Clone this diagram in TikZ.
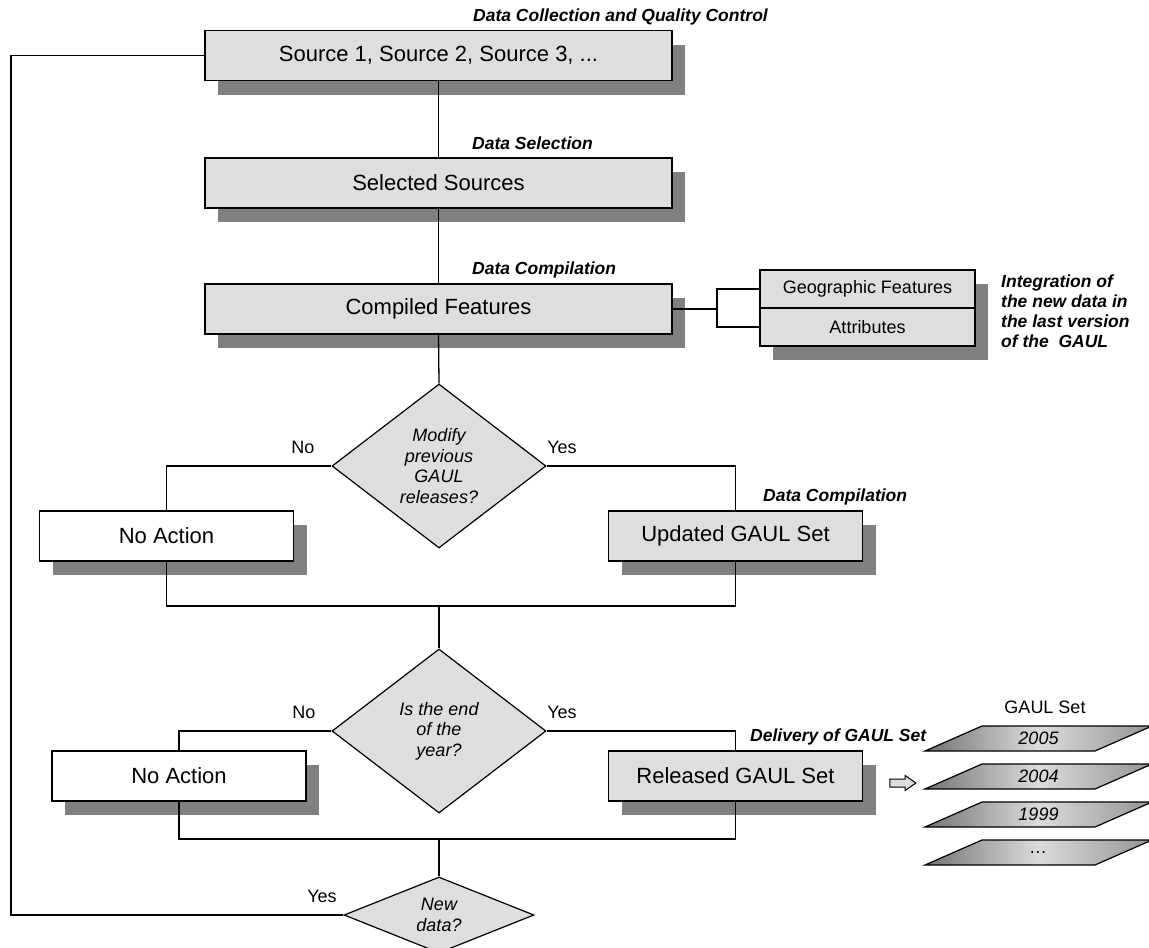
\documentclass[tikz,border=0pt]{standalone}
\usepackage{fontspec}
\setmainfont{Liberation Sans}
\usetikzlibrary{shapes.geometric,shapes.arrows,shadows}

\definecolor{boxgray}{gray}{0.87}
\definecolor{shadowgray}{gray}{0.5}
\definecolor{parleft}{gray}{0.45}
\definecolor{parmid}{gray}{0.86}
\definecolor{parright}{gray}{0.58}

\newcommand{\boxfont}{\fontsize{22}{26}\selectfont}
\newcommand{\smallfont}{\fontsize{18}{20.5}\selectfont}
\newcommand{\stepfont}{\fontsize{17.5}{20}\selectfont\bfseries\itshape}

\begin{document}
\begin{tikzpicture}[x=1pt,y=-1pt,
    procbox/.style={draw, line width=1.3pt, fill=boxgray, inner sep=0pt,
        minimum height=50pt, font=\boxfont,
        drop shadow={shadow xshift=13pt, shadow yshift=-14pt, fill=shadowgray, opacity=1}},
    widebox/.style={minimum width=467pt},
    halfbox/.style={minimum width=254pt},
    decision/.style={diamond, draw, line width=1.2pt, fill=boxgray, inner sep=0pt,
        align=center, font=\smallfont\itshape},
    steplabel/.style={anchor=west, inner sep=0pt, font=\stepfont},
    answer/.style={inner sep=0pt, font=\smallfont},
    link/.style={line width=1.3pt}]
\useasboundingbox[fill=white] (0,0) rectangle (1149,948);

% Main chain
\node[procbox, widebox] (src) at (438.5,55.5) {Source 1, Source 2, Source 3, ...};
\node[steplabel] (lblcoll) at (473,17) {Data Collection and Quality Control};
\node[procbox, widebox] (sel) at (438.5,183) {Selected Sources};
\node[steplabel] (lblsel) at (472,143) {Data Selection};
\node[procbox, widebox] (comp) at (438.5,309) {Compiled Features};
\node[steplabel] (lblcomp) at (472,270) {Data Compilation};

% Integration box
\node[procbox, minimum width=215pt, minimum height=38pt, font=\smallfont] (geo) at (867.5,289) {Geographic Features};
\node[procbox, minimum width=215pt, minimum height=38pt, font=\smallfont] (attr) at (867.5,327) {Attributes};
\node[anchor=north west, align=left, inner sep=0pt, font=\stepfont] (integ) at (1001,275)
    {Integration of\\the new data in\\the last version\\of the\ \ GAUL};
\coordinate (fork) at (717,309);

% First decision
\node[decision, minimum width=214pt, minimum height=164pt] (q1) at (439,466) {Modify\\previous\\GAUL\\releases?};
\node[answer] (no1) at (303,447) {No};
\node[answer] (yes1) at (562,447) {Yes};
\node[procbox, halfbox, fill=white] (none1) at (166.5,536) {No Action};
\node[procbox, halfbox] (upd) at (735.5,536) {Updated GAUL Set};
\node[steplabel] (lblupd) at (763,497) {Data Compilation};
\coordinate (join1) at (439,606);

% Second decision
\node[decision, minimum width=214pt, minimum height=164pt] (q2) at (439,731) {Is the end\\of the\\year?};
\node[answer] (no2) at (304,712) {No};
\node[answer] (yes2) at (562,712) {Yes};
\node[procbox, halfbox, fill=white] (none2) at (179,776) {No Action};
\node[procbox, halfbox] (rel) at (735.5,776) {Released GAUL Set};
\node[steplabel] (lbldeliv) at (750,737) {Delivery of GAUL Set};
\coordinate (join2) at (439,839);

% Third decision
\node[decision, aspect=2.5, minimum width=190pt, minimum height=76pt] (q3) at (439,915) {New\\data?};
\node[answer] (yes3) at (322,896) {Yes};
\coordinate (loopx) at (11,0);

% GAUL sets
\node[single arrow, draw, fill=boxgray, line width=1pt, inner xsep=0pt, inner ysep=3.5pt,
    minimum height=26pt, minimum width=0pt, single arrow head extend=3.5pt,
    single arrow tip angle=70] (deliv) at (900,783) {};
\node[answer] (setttl) at (1045,707) {GAUL Set};
\foreach \yr [count=\k from 0] in {2005,2004,1999,\ldots} {
    \pgfmathsetmacro{\ytop}{726+38*\k}
    \shade[draw, line width=1.2pt, left color=parleft, right color=parright, middle color=parmid]
        (925,\ytop+25) -- (982,\ytop) -- (1152,\ytop) -- (1095,\ytop+25) -- cycle;
    \node[answer, font=\smallfont\itshape] (yr\k) at (1038.5,\ytop+12.5) {\yr};
}

% Connectors
\draw[link] (src.south) -- (sel.north);
\draw[link] (sel.south) -- (comp.north);
\draw[link] (comp.east) -- (fork);
\draw[link] (geo.west) -| (fork) |- (attr.west);
\draw[link] (comp.south) -- (q1.north);
\draw[link] (q1.west) -| (none1.north);
\draw[link] (q1.east) -| (upd.north);
\draw[link] (none1.south) |- (join1) -| (upd.south);
\draw[link] (join1) -- (q2.north);
\draw[link] (q2.west) -| (none2.north);
\draw[link] (q2.east) -| (rel.north);
\draw[link] (none2.south) |- (join2) -| (rel.south);
\draw[link] (join2) -- (q3.north);
\draw[link] (q3.west) -- (q3.west -| loopx) |- (src.west);

\end{tikzpicture}
\end{document}
